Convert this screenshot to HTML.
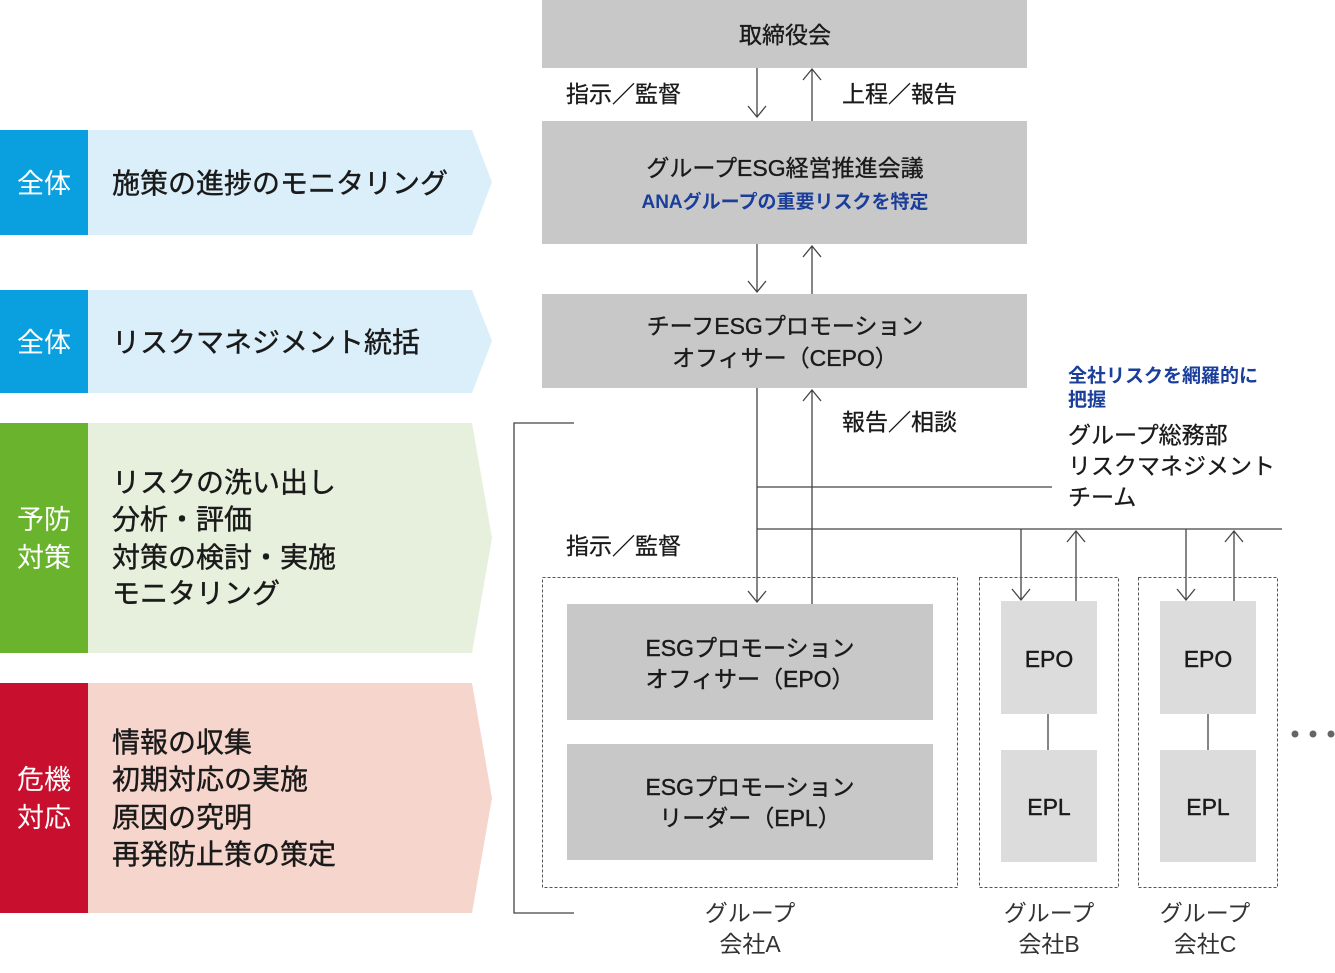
<!DOCTYPE html>
<html><head><meta charset="utf-8"><style>
html,body{margin:0;padding:0;background:#fff}
svg{display:block}
text{font-family:"Liberation Sans","Noto Sans CJK JP",sans-serif}
.m{stroke:currentColor;stroke-width:0.35}
</style></head><body>
<svg width="1335" height="973" viewBox="0 0 1335 973" xmlns="http://www.w3.org/2000/svg">
<polygon points="88,130 472,130 492,182 472,235 88,235" fill="#dbeffa"/>
<rect x="0" y="130" width="88" height="105" fill="#0aa0e0"/>
<polygon points="88,290 472,290 492,341 472,393 88,393" fill="#dbeffa"/>
<rect x="0" y="290" width="88" height="103" fill="#0aa0e0"/>
<polygon points="88,423 472,423 492,538 472,653 88,653" fill="#e6f0dc"/>
<rect x="0" y="423" width="88" height="230" fill="#6ab42d"/>
<polygon points="88,683 472,683 492,798 472,913 88,913" fill="#f5d5cc"/>
<rect x="0" y="683" width="88" height="230" fill="#c8102e"/>
<g fill="#fff" font-size="27" text-anchor="middle">
<text x="44" y="193">全体</text>
<text x="44" y="352">全体</text>
<text x="44" y="529">予防</text>
<text x="44" y="567">対策</text>
<text x="44" y="789">危機</text>
<text x="44" y="827">対応</text>
</g>
<g fill="#1a1a1a" font-size="28" stroke="#1a1a1a" stroke-width="0.4">
<text x="112" y="193">施策の進捗のモニタリング</text>
<text x="112" y="352">リスクマネジメント統括</text>
<text x="112" y="492">リスクの洗い出し</text>
<text x="112" y="529">分析・評価</text>
<text x="112" y="567">対策の検討・実施</text>
<text x="112" y="603">モニタリング</text>
<text x="112" y="752">情報の収集</text>
<text x="112" y="789">初期対応の実施</text>
<text x="112" y="827">原因の究明</text>
<text x="112" y="864">再発防止策の策定</text>
</g>
<rect x="542" y="0" width="485" height="68" fill="#c8c8c8"/>
<rect x="542" y="121" width="485" height="123" fill="#c8c8c8"/>
<rect x="542" y="294" width="485" height="94" fill="#c8c8c8"/>
<g fill="#1a1a1a" font-size="23" text-anchor="middle" stroke="#1a1a1a" stroke-width="0.35">
<text x="785" y="43">取締役会</text>
<text x="785" y="176">グループESG経営推進会議</text>
<text x="785" y="334">チーフESGプロモーション</text>
<text x="785" y="366">オフィサー（CEPO）</text>
</g>
<text x="785" y="208" fill="#1a3e9a" font-size="19" font-weight="bold" text-anchor="middle">ANAグループの重要リスクを特定</text>
<g fill="#1a1a1a" font-size="23" stroke="#1a1a1a" stroke-width="0.3">
<text x="566" y="102">指示／監督</text>
<text x="842" y="102">上程／報告</text>
<text x="842" y="430">報告／相談</text>
<text x="566" y="554">指示／監督</text>
<text x="1068" y="443">グループ総務部</text>
<text x="1068" y="474">リスクマネジメント</text>
<text x="1068" y="505">チーム</text>
</g>
<g fill="#1a3e9a" font-size="19" font-weight="bold">
<text x="1068" y="382">全社リスクを網羅的に</text>
<text x="1068" y="406">把握</text>
</g>
<g stroke="#444" stroke-width="1.3" fill="none">
<line x1="757" y1="68" x2="757" y2="117"/><polyline points="748,106 757,117 766,106"/>
<line x1="812" y1="70" x2="812" y2="121"/><polyline points="803,80 812,69 821,80"/>
<line x1="757" y1="244" x2="757" y2="292"/><polyline points="748,281 757,292 766,281"/>
<line x1="812" y1="246" x2="812" y2="294"/><polyline points="803,257 812,246 821,257"/>
<line x1="757" y1="388" x2="757" y2="602"/><polyline points="748,591 757,602 766,591"/>
<line x1="812" y1="390" x2="812" y2="604"/><polyline points="803,401 812,390 821,401"/>
<line x1="757" y1="487" x2="1052" y2="487"/>
<line x1="757" y1="529" x2="1282" y2="529"/>
<line x1="1021" y1="529" x2="1021" y2="600"/><polyline points="1012,589 1021,600 1030,589"/>
<line x1="1076" y1="531" x2="1076" y2="601"/><polyline points="1067,542 1076,531 1085,542"/>
<line x1="1186" y1="529" x2="1186" y2="600"/><polyline points="1177,589 1186,600 1195,589"/>
<line x1="1234" y1="531" x2="1234" y2="601"/><polyline points="1225,542 1234,531 1243,542"/>
<polyline points="574,423 514,423 514,913 574,913"/>
<line x1="1048" y1="714" x2="1048" y2="750"/>
<line x1="1208" y1="714" x2="1208" y2="750"/>
</g>
<g stroke="#555" stroke-width="1" stroke-dasharray="3,2" fill="none">
<rect x="542.5" y="577.5" width="415" height="310"/>
<rect x="979.5" y="577.5" width="139" height="310"/>
<rect x="1138.5" y="577.5" width="139" height="310"/>
</g>
<rect x="567" y="604" width="366" height="116" fill="#c8c8c8"/>
<rect x="567" y="744" width="366" height="116" fill="#c8c8c8"/>
<rect x="1001" y="601" width="96" height="113" fill="#dcdcdc"/>
<rect x="1001" y="750" width="96" height="112" fill="#dcdcdc"/>
<rect x="1160" y="601" width="96" height="113" fill="#dcdcdc"/>
<rect x="1160" y="750" width="96" height="112" fill="#dcdcdc"/>
<g fill="#1a1a1a" font-size="23" text-anchor="middle" stroke="#1a1a1a" stroke-width="0.4">
<text x="750" y="656">ESGプロモーション</text>
<text x="750" y="687">オフィサー（EPO）</text>
<text x="750" y="795">ESGプロモーション</text>
<text x="750" y="826">リーダー（EPL）</text>
<text x="1049" y="667">EPO</text>
<text x="1049" y="815">EPL</text>
<text x="1208" y="667">EPO</text>
<text x="1208" y="815">EPL</text>
</g>
<g fill="#333" font-size="23" text-anchor="middle">
<text x="750" y="921">グループ</text>
<text x="750" y="952">会社A</text>
<text x="1049" y="921">グループ</text>
<text x="1049" y="952">会社B</text>
<text x="1205" y="921">グループ</text>
<text x="1205" y="952">会社C</text>
</g>
<g fill="#666"><circle cx="1295" cy="734" r="3.5"/><circle cx="1313" cy="734" r="3.5"/><circle cx="1331" cy="734" r="3.5"/></g>
</svg>
</body></html>
